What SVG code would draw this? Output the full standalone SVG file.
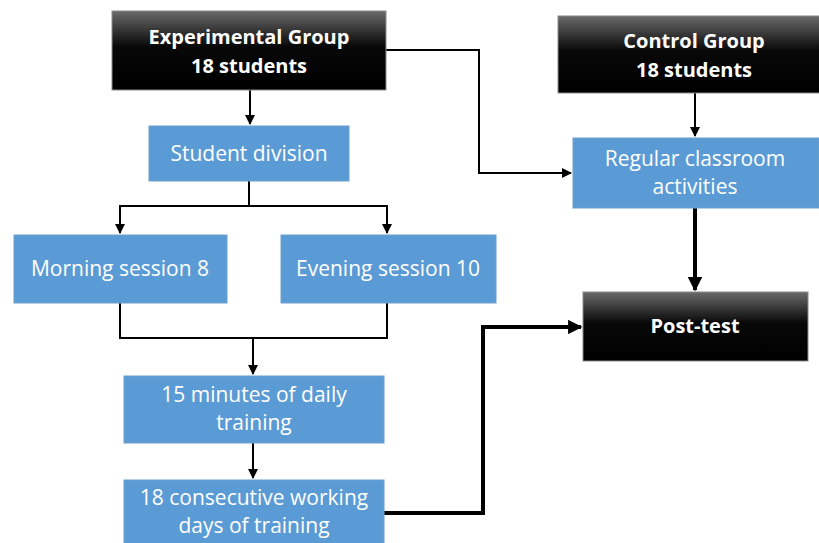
<svg xmlns="http://www.w3.org/2000/svg" width="819" height="543" viewBox="0 0 819 543">
  <defs>
    <linearGradient id="darkFill" x1="0" y1="0" x2="0" y2="1">
      <stop offset="0" stop-color="#6a6a6a"/>
      <stop offset="0.45" stop-color="#080808"/>
      <stop offset="1" stop-color="#000000"/>
    </linearGradient>
    <marker id="arrow" viewBox="0 0 10 10" refX="9" refY="5" markerWidth="5" markerHeight="5" orient="auto" markerUnits="strokeWidth">
      <path d="M0,0 L10,5 L0,10 Z" fill="#000"/>
    </marker>
    <marker id="arrowThick" viewBox="0 0 10 10" refX="9" refY="5" markerWidth="3.6" markerHeight="3.6" orient="auto" markerUnits="strokeWidth">
      <path d="M0,0 L10,5 L0,10 Z" fill="#000"/>
    </marker>
  </defs>
  <style>
    .dark { fill: url(#darkFill); stroke: #8a8a8a; stroke-width: 1; }
    .blue { fill: #5b9bd5; stroke: #6e9fcc; stroke-width: 1; }
    .lbl { font-family: "Open Sans", "Noto Sans", sans-serif; font-size: 21px; fill: #ffffff; text-anchor: middle; }
    .bold { font-weight: bold; font-size: 20px; }
    .thin { fill: none; stroke: #000; stroke-width: 2; }
    .thick { fill: none; stroke: #000; stroke-width: 4; }
  </style>
  <rect width="819" height="543" fill="#ffffff"/>

  <g id="connectors">
    <path class="thin" d="M250,90 V124" marker-end="url(#arrow)"/>
    <path class="thin" d="M386,50 H479 V173 H571" marker-end="url(#arrow)"/>
    <path class="thin" d="M695,93 V136" marker-end="url(#arrow)"/>
    <path class="thin" d="M249,181 V206 H120 V233" marker-end="url(#arrow)"/>
    <path class="thin" d="M249,206 H387 V233" marker-end="url(#arrow)"/>
    <path class="thin" d="M120,303 V338 H387 V303"/>
    <path class="thin" d="M253,338 V374" marker-end="url(#arrow)"/>
    <path class="thin" d="M253,443 V478" marker-end="url(#arrow)"/>
    <path class="thick" d="M695,208 V290" marker-end="url(#arrowThick)"/>
    <path class="thick" d="M384,513 H483 V327 H581" marker-end="url(#arrowThick)"/>
  </g>

  <g id="experimental-group">
    <rect class="dark" x="112" y="11" width="274" height="79"/>
    <text class="lbl bold" x="249" y="44">Experimental Group</text>
    <text class="lbl bold" x="249" y="73">18 students</text>
  </g>

  <g id="control-group">
    <rect class="dark" x="558" y="16" width="262" height="77"/>
    <text class="lbl bold" x="694" y="48">Control Group</text>
    <text class="lbl bold" x="694" y="77">18 students</text>
  </g>

  <g id="student-division">
    <rect class="blue" x="149" y="126" width="200" height="55"/>
    <text class="lbl" x="249" y="161">Student division</text>
  </g>

  <g id="regular-classroom">
    <rect class="blue" x="573" y="138" width="246" height="70"/>
    <text class="lbl" x="695" y="166">Regular classroom</text>
    <text class="lbl" x="695" y="194">activities</text>
  </g>

  <g id="morning-session">
    <rect class="blue" x="14" y="235" width="213" height="68"/>
    <text class="lbl" x="120" y="276">Morning session 8</text>
  </g>

  <g id="evening-session">
    <rect class="blue" x="281" y="235" width="215" height="68"/>
    <text class="lbl" x="388" y="276">Evening session 10</text>
  </g>

  <g id="post-test">
    <rect class="dark" x="583" y="292" width="225" height="69"/>
    <text class="lbl bold" x="695" y="333">Post-test</text>
  </g>

  <g id="daily-training">
    <rect class="blue" x="124" y="376" width="260" height="67"/>
    <text class="lbl" x="254" y="402">15 minutes of daily</text>
    <text class="lbl" x="254" y="430">training</text>
  </g>

  <g id="working-days">
    <rect class="blue" x="124" y="480" width="260" height="70"/>
    <text class="lbl" x="254" y="505">18 consecutive working</text>
    <text class="lbl" x="254" y="533">days of training</text>
  </g>
</svg>
